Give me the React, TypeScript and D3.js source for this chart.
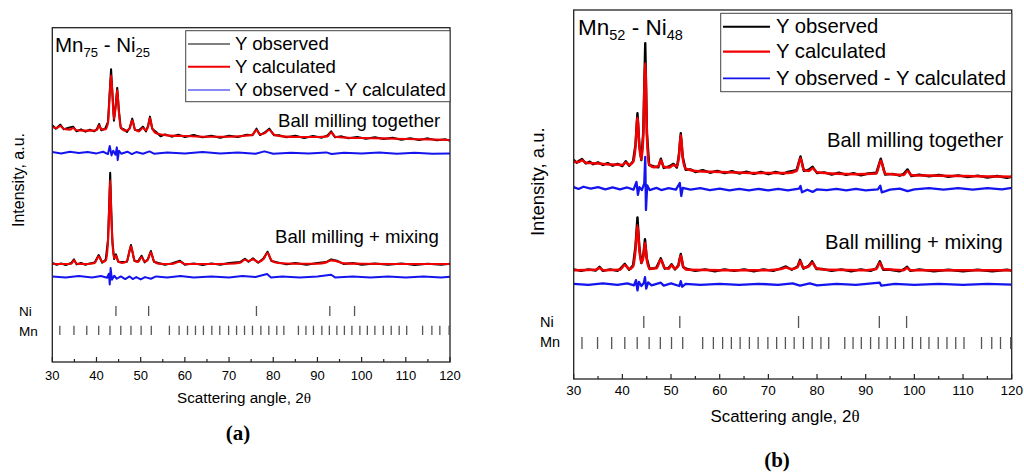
import React from 'react';
import * as d3 from 'd3';

type Pt = [number, number];

// x axis: scattering angle 2θ
const X_TICKS = [30, 40, 50, 60, 70, 80, 90, 100, 110, 120];
const X_MINOR = [35, 45, 55, 65, 75, 85, 95, 105, 115];

// reference reflections
const NI_LINES = [44.4, 51.8, 76.2, 92.8, 98.4];
const MN_LINES = [
  31.7, 34.9, 37.8, 40.5, 43.05, 45.5, 47.8, 50.1, 52.4, 56.5, 58.7, 60.6, 62.4, 64.2, 66.1,
  67.9, 69.9, 71.7, 73.5, 75.3, 77.2, 79.0, 80.8, 82.4, 85.7, 87.4, 89.1, 91.0, 92.7, 94.4,
  96.1, 97.8, 99.6, 101.3, 103.0, 104.9, 106.7, 108.5, 110.2, 113.8, 115.9, 117.7, 119.8,
];

const LEGEND = ['Y observed', 'Y calculated', 'Y observed - Y calculated'];
const SAMPLES = ['Ball milling together', 'Ball milling + mixing'];

// (a) Mn75 - Ni25, intensity a.u.
const A_TOP_OBS: Pt[] = [
  [30, 70.8], [30.8, 69.8], [31.8, 71.0], [32.6, 69.6], [33.5, 70.0], [34.7, 70.4], [35.5, 69.0],
  [36.5, 69.6], [37.5, 68.9], [38.5, 69.5], [39.5, 69.0], [40.1, 69.7], [40.6, 71.2], [41.1, 69.3],
  [42, 69.9], [42.6, 71.8], [43.0, 81], [43.3, 87.6], [43.6, 80.5], [43.95, 72.2], [44.35, 77],
  [44.7, 82.0], [45.05, 75.5], [45.5, 70.0], [46.2, 69.6], [46.9, 68.8], [47.5, 70.0], [48.1, 72.8],
  [48.7, 69.4], [49.6, 69.3], [50.5, 70.4], [51.2, 69.0], [51.7, 70.8], [52.1, 73.4], [52.6, 69.8],
  [53.5, 68.8], [54.5, 67.5], [55.5, 68.1], [57, 67.4], [58.5, 68.0], [60, 67.3], [62, 67.9],
  [64, 67.2], [66, 67.7], [68, 67.1], [70, 67.7], [72, 67.3], [74, 68.0], [75.3, 67.8], [76.2, 69.8],
  [77.0, 67.9], [78, 68.6], [79.1, 69.8], [80.2, 67.8], [81.5, 67.8], [83, 67.2], [85, 67.7],
  [87, 67.0], [89, 67.6], [91, 67.1], [92.3, 67.8], [93.1, 69.0], [94, 67.2], [95.5, 67.5], [97, 66.9],
  [99, 67.3], [101, 66.8], [103, 67.2], [105, 66.7], [107, 67.1], [109, 66.5], [111, 66.9], [113, 66.4],
  [115, 66.9], [117, 66.3], [119, 66.6], [120, 66.2],
];
const A_TOP_CALC: Pt[] = [
  [30, 70.3], [31, 70.0], [31.8, 70.6], [32.6, 69.8], [34, 69.5], [34.7, 70.0], [35.5, 69.3], [37, 69.2],
  [39, 69.2], [40.1, 69.4], [40.6, 70.8], [41.1, 69.6], [42, 69.6], [42.6, 71.5], [43.0, 80], [43.3, 85.8],
  [43.6, 80], [43.95, 72.6], [44.35, 76.5], [44.7, 81.4], [45.05, 75], [45.5, 70.2], [46.5, 69.2],
  [47.5, 69.8], [48.1, 72.3], [48.7, 69.6], [49.6, 69.0], [50.5, 70.0], [51.2, 69.3], [51.7, 70.5],
  [52.1, 73.0], [52.6, 70.0], [53.5, 68.4], [56, 67.8], [60, 67.6], [65, 67.4], [70, 67.4], [73, 67.6],
  [75.3, 68.0], [76.2, 69.4], [77.0, 68.1], [78, 68.4], [79.1, 69.4], [80.2, 68.0], [82, 67.5],
  [86, 67.3], [90, 67.3], [92.3, 67.5], [93.1, 68.6], [94, 67.4], [97, 67.1], [100, 67.0], [105, 66.9],
  [110, 66.7], [115, 66.6], [120, 66.4],
];
const A_TOP_DIFF: Pt[] = [
  [30, 62.8], [32, 62.4], [34, 62.9], [36, 62.5], [38, 62.8], [40, 62.4], [41.5, 62.9], [42.6, 62.2],
  [43.0, 64.6], [43.4, 61.8], [43.8, 63.2], [44.3, 62.0], [44.6, 64.2], [44.8, 60.4], [45.1, 63.2],
  [45.6, 62.3], [47, 62.9], [48, 62.2], [49, 62.8], [50.5, 62.3], [52, 63.0], [53, 62.3], [56, 62.7],
  [60, 62.4], [64, 62.8], [68, 62.4], [72, 62.7], [76, 62.3], [78, 63.0], [80, 62.3], [84, 62.6],
  [88, 62.4], [92, 62.7], [93.2, 62.2], [96, 62.6], [100, 62.4], [104, 62.7], [108, 62.3], [112, 62.6],
  [116, 62.3], [120, 62.4],
];
const A_BOT_OBS: Pt[] = [
  [30, 29.6], [31, 29.1], [32, 29.5], [33, 29.0], [34.3, 29.6], [34.9, 30.7], [35.5, 29.2], [36.5, 29.6],
  [37.5, 29.1], [38.5, 29.5], [39.6, 29.8], [40.5, 32.0], [41.3, 29.7], [42.1, 30.7], [42.6, 36.5],
  [42.85, 46], [43.1, 56.6], [43.35, 45], [43.6, 36.2], [44.0, 30.8], [44.4, 32.2], [44.9, 30.0],
  [45.8, 29.9], [46.9, 30.0], [47.8, 35.0], [48.6, 30.2], [49.4, 30.1], [50.2, 31.8], [50.9, 29.8],
  [51.6, 30.7], [52.3, 33.2], [53.0, 30.0], [54, 29.6], [55.5, 29.1], [57, 29.5], [58.9, 30.3],
  [60, 29.1], [62, 29.5], [64, 29.0], [66, 29.5], [68, 29.1], [70, 29.6], [72.5, 29.9], [73.6, 30.9],
  [74.4, 30.0], [75.4, 31.0], [76.6, 29.7], [77.8, 31.0], [78.7, 33.0], [79.6, 30.2], [81, 29.8],
  [83, 29.2], [85, 29.6], [87.5, 29.1], [90, 29.6], [92, 29.9], [93.1, 30.7], [94.4, 30.3], [96, 29.3],
  [98, 29.6], [100, 29.1], [103, 29.5], [106, 29.1], [109, 29.5], [112, 29.0], [115, 29.4], [118, 29.1],
  [120, 29.4],
];
const A_BOT_CALC: Pt[] = [
  [30, 29.4], [33, 29.3], [34.3, 29.4], [34.9, 30.4], [35.5, 29.4], [38, 29.3], [39.6, 29.6], [40.5, 31.6],
  [41.3, 29.9], [42.1, 30.4], [42.6, 36], [42.85, 45], [43.1, 54.4], [43.35, 44], [43.6, 36], [44.0, 31.0],
  [44.4, 31.8], [44.9, 30.2], [45.8, 29.6], [46.9, 30.2], [47.8, 34.6], [48.6, 30.4], [49.4, 29.9],
  [50.2, 31.4], [50.9, 30.0], [51.6, 30.5], [52.3, 32.8], [53.0, 30.2], [54, 29.4], [57, 29.3],
  [58.9, 30.0], [60, 29.3], [65, 29.3], [70, 29.4], [72.5, 29.7], [73.6, 30.6], [74.4, 30.2], [75.4, 30.7],
  [76.6, 29.9], [77.8, 30.8], [78.7, 32.6], [79.6, 30.4], [81, 29.6], [85, 29.4], [90, 29.4], [92, 29.8],
  [93.1, 30.4], [94.4, 30.1], [96, 29.5], [100, 29.4], [110, 29.3], [120, 29.3],
];
const A_BOT_DIFF: Pt[] = [
  [30, 25.6], [33, 25.3], [36, 25.7], [39, 25.3], [41, 25.7], [42.4, 25.2], [42.8, 26.4], [43.0, 23.2],
  [43.2, 28.1], [43.5, 24.6], [44, 25.8], [44.6, 24.9], [45.5, 25.6], [46.5, 24.8], [47.5, 25.6],
  [48.2, 24.8], [49, 25.4], [50, 24.7], [51, 25.4], [52.3, 24.9], [53.5, 25.6], [56, 25.3], [59, 25.7],
  [62, 25.3], [66, 25.6], [70, 25.3], [73, 25.7], [76, 25.4], [78.6, 26.3], [79.5, 25.3], [82, 25.6],
  [86, 25.3], [90, 25.6], [93.1, 26.1], [94, 25.3], [98, 25.6], [102, 25.3], [106, 25.6], [110, 25.3],
  [114, 25.6], [118, 25.3], [120, 25.5],
];

// (b) Mn52 - Ni48, intensity a.u.
const B_TOP_OBS: Pt[] = [
  [30, 59.4], [30.6, 58.6], [31.2, 59.2], [31.7, 59.6], [32.5, 58.4], [33.3, 58.9], [34, 58.2], [35, 58.7],
  [36, 58.0], [37, 58.5], [38, 57.8], [39, 58.3], [40, 57.7], [40.7, 59.0], [41.4, 57.8], [42.2, 59.0],
  [42.7, 63.5], [43.1, 72.0], [43.5, 63.2], [43.9, 59.3], [44.3, 67], [44.7, 91.0], [45.05, 66.5],
  [45.5, 58.0], [46.5, 57.6], [47.4, 57.4], [47.9, 59.7], [48.5, 57.2], [49.6, 57.6], [50.5, 58.3],
  [51.2, 57.3], [51.6, 60.5], [52.0, 66.6], [52.4, 60.2], [53, 56.7], [54, 56.8], [55, 56.1], [56.5, 56.6],
  [58, 55.9], [59.5, 56.4], [61, 55.8], [62.5, 56.3], [64, 55.7], [65.5, 56.2], [67, 55.6], [68.5, 56.1],
  [70, 55.5], [71.5, 56.1], [73, 55.6], [74, 56.1], [75.8, 56.6], [76.6, 60.3], [77.3, 56.4], [78.3, 56.7],
  [79.1, 57.5], [80, 55.8], [81.5, 56.0], [83, 55.4], [84.5, 55.9], [86, 55.3], [87.5, 55.8], [89, 55.2],
  [90.5, 55.7], [92.2, 55.9], [93.1, 59.7], [94, 55.4], [95.5, 55.6], [97, 55.1], [97.8, 55.6],
  [98.6, 56.8], [99.4, 55.0], [101, 55.4], [103, 54.9], [105, 55.3], [107, 54.8], [109, 55.2], [111, 54.7],
  [113, 55.1], [115, 54.6], [117, 55.0], [119, 54.5], [120, 54.8],
];
const B_TOP_CALC: Pt[] = [
  [30, 58.9], [31, 58.8], [31.7, 59.3], [32.5, 58.6], [34, 58.5], [36, 58.3], [38, 58.1], [40, 58.0],
  [40.7, 58.7], [41.4, 58.0], [42.2, 58.8], [42.7, 63], [43.1, 70.7], [43.5, 63], [43.9, 59.5], [44.3, 66],
  [44.7, 85.6], [45.05, 66], [45.5, 58.2], [46.5, 57.4], [47.4, 57.7], [47.9, 59.3], [48.5, 57.5],
  [49.6, 57.3], [50.5, 58.0], [51.2, 57.6], [51.6, 60], [52.0, 66.1], [52.4, 60], [53, 57.0], [55, 56.4],
  [60, 56.1], [65, 55.9], [70, 55.8], [74, 55.8], [75.8, 56.4], [76.6, 59.8], [77.3, 56.6], [78.3, 56.4],
  [79.1, 57.1], [80, 56.0], [84, 55.6], [88, 55.5], [92.2, 55.7], [93.1, 59.2], [94, 55.6], [97.8, 55.3],
  [98.6, 56.4], [99.4, 55.2], [105, 55.1], [110, 55.0], [115, 54.9], [120, 54.8],
];
const B_TOP_DIFF: Pt[] = [
  [30, 52.0], [31, 51.5], [32, 52.1], [33.5, 51.6], [35, 52.0], [36.5, 51.4], [38, 51.9], [39.5, 51.4],
  [41, 51.9], [42.3, 51.3], [42.9, 53.4], [43.2, 49.9], [43.5, 52.0], [44.0, 51.2], [44.5, 53.0],
  [44.7, 60.2], [44.85, 45.8], [45.1, 52.5], [45.6, 51.2], [47, 51.8], [48, 51.2], [49.5, 51.7], [51, 51.3],
  [51.8, 53.1], [52.1, 49.6], [52.4, 51.8], [54, 51.3], [56, 51.7], [58, 51.2], [60, 51.6], [62, 51.1],
  [64, 51.5], [66, 51.1], [68, 51.5], [70, 51.1], [72, 51.5], [74, 51.1], [76.3, 51.6], [76.6, 52.3],
  [76.9, 50.6], [78, 51.3], [79.1, 50.7], [80, 51.4], [82, 51.2], [84, 51.5], [86, 51.1], [88, 51.5],
  [90, 51.1], [92.5, 51.4], [93.0, 52.4], [93.3, 50.6], [95, 51.3], [97, 51.6], [98.6, 50.9], [100, 51.4],
  [103, 51.7], [106, 51.3], [109, 51.7], [112, 51.3], [115, 51.7], [118, 51.4], [120, 51.8],
];
const B_BOT_OBS: Pt[] = [
  [30, 29.7], [31.5, 29.3], [33, 29.7], [34.5, 29.4], [35.3, 30.4], [36, 29.3], [37.5, 29.7], [39, 29.3],
  [39.5, 29.8], [40.5, 31.2], [41.4, 29.6], [42.2, 30.8], [42.7, 36], [43.1, 43.8], [43.5, 35.5],
  [43.9, 31.4], [44.3, 33.5], [44.65, 37.9], [45.0, 32.8], [45.6, 29.8], [47.0, 30.2], [47.9, 32.7],
  [48.7, 29.9], [49.5, 30.1], [50.1, 31.1], [50.8, 29.7], [51.5, 30.8], [52.0, 33.9], [52.5, 30.3],
  [53.3, 29.8], [55, 29.3], [57, 29.7], [59, 29.2], [61, 29.7], [63, 29.3], [65, 29.7], [67, 29.2],
  [69, 29.7], [71, 29.3], [72.6, 30.0], [73.6, 30.5], [74.8, 29.6], [76.0, 30.5], [76.5, 32.3],
  [77.2, 29.9], [78.3, 30.7], [79.0, 31.9], [79.9, 29.8], [81, 29.8], [83, 29.3], [85, 29.7], [87, 29.2],
  [89, 29.7], [91, 29.3], [92.2, 30.0], [92.9, 31.9], [93.6, 29.6], [95, 29.6], [97, 29.2], [97.8, 29.7],
  [98.5, 30.4], [99.2, 29.3], [101, 29.7], [104, 29.2], [107, 29.6], [110, 29.2], [113, 29.6], [116, 29.2],
  [119, 29.6], [120, 29.4],
];
const B_BOT_CALC: Pt[] = [
  [30, 29.5], [34.5, 29.6], [35.3, 30.1], [36, 29.5], [39.5, 29.6], [40.5, 30.9], [41.4, 29.8], [42.2, 30.5],
  [42.7, 35], [43.1, 41.7], [43.5, 35], [43.9, 31.5], [44.3, 33], [44.65, 36.9], [45.0, 32.5], [45.6, 29.9],
  [47.0, 30.0], [47.9, 32.3], [48.7, 30.1], [49.5, 29.9], [50.1, 30.8], [50.8, 29.9], [51.5, 30.6],
  [52.0, 33.5], [52.5, 30.5], [53.3, 29.6], [60, 29.5], [70, 29.5], [72.6, 29.8], [73.6, 30.2], [74.8, 29.8],
  [76.0, 30.3], [76.5, 31.9], [77.2, 30.1], [78.3, 30.5], [79.0, 31.5], [79.9, 30.0], [82, 29.6], [90, 29.5],
  [92.2, 29.8], [92.9, 31.5], [93.6, 29.8], [97.8, 29.5], [98.5, 30.1], [99.2, 29.5], [110, 29.5], [120, 29.5],
];
const B_BOT_DIFF: Pt[] = [
  [30, 25.8], [33, 25.5], [36, 25.9], [39, 25.5], [41, 25.9], [42.4, 25.4], [42.8, 26.8], [43.1, 24.0],
  [43.4, 26.3], [43.9, 25.2], [44.4, 26.0], [44.65, 27.6], [44.9, 24.5], [45.3, 26.2], [46, 25.4],
  [47.9, 26.1], [48.5, 25.3], [50, 25.9], [51.7, 25.2], [52.0, 26.5], [52.3, 25.0], [53, 25.8], [56, 25.5],
  [60, 25.8], [64, 25.5], [68, 25.8], [72, 25.5], [75, 25.9], [76.5, 25.3], [78.5, 25.9], [80, 25.4],
  [84, 25.8], [88, 25.5], [92.9, 26.1], [93.2, 25.3], [96, 25.8], [100, 25.5], [105, 25.8], [110, 25.5],
  [115, 25.8], [120, 25.6],
];

const SANS = '"Liberation Sans", Arial, sans-serif';
const RED = '#f00000';
const BLUE = '#1414ee';

const Panel = ({ L, sub, patterns }: any) => {
  const x = d3.scaleLinear().domain([30, 120]).range([L.x0, L.x1]);
  const y = d3.scaleLinear().domain([0, 100]).range([L.y1, L.y0]);
  const smooth = d3.line<Pt>().x((d) => x(d[0])).y((d) => y(d[1])).curve(d3.curveMonotoneX);
  const raw = d3.line<Pt>().x((d) => x(d[0])).y((d) => y(d[1]));
  const legColors = ['#000', RED, BLUE];

  return (
    <g fontFamily={SANS}>
      {patterns.map((p: any, i: number) => (
        <g key={i} fill="none" strokeLinejoin="round">
          <path d={raw(p.diff) || ''} stroke={BLUE} strokeWidth={L.diffW} />
          <path d={raw(p.obs) || ''} stroke="#000" strokeWidth={L.obsW} />
          <path d={smooth(p.calc) || ''} stroke={RED} strokeWidth={L.calcW} />
        </g>
      ))}

      {/* frame */}
      <rect x={L.x0} y={L.y0} width={L.x1 - L.x0} height={L.y1 - L.y0} fill="none" stroke="#222" strokeWidth={1.3} />

      {/* title */}
      <text x={L.title.x} y={L.title.y} fontSize={L.title.size}>
        <tspan>Mn</tspan>
        <tspan fontSize={L.title.sub} dy={5}>{sub[0]}</tspan>
        <tspan dy={-5}> - Ni</tspan>
        <tspan fontSize={L.title.sub} dy={5}>{sub[1]}</tspan>
      </text>

      {/* legend */}
      <rect x={L.leg.x0} y={L.leg.y0} width={L.x1 - L.leg.x0} height={L.leg.y1 - L.leg.y0} fill="#fff" stroke="#444" strokeWidth={1} />
      {LEGEND.map((t, i) => (
        <g key={t}>
          <line x1={L.leg.lx0} x2={L.leg.lx1} y1={L.leg.rows[i]} y2={L.leg.rows[i]} stroke={legColors[i]} strokeWidth={L.legW[i]} />
          <text x={L.leg.tx} y={L.leg.rows[i] + L.leg.dy} fontSize={L.leg.size}>{t}</text>
        </g>
      ))}

      {SAMPLES.map((t, i) => (
        <text key={t} x={L.samples[i][0]} y={L.samples[i][1]} fontSize={L.sampleSize}>{t}</text>
      ))}

      {/* reference reflections */}
      <text x={L.ref.lx} y={L.ref.niY} fontSize={L.ref.size}>Ni</text>
      <text x={L.ref.lx} y={L.ref.mnY} fontSize={L.ref.size}>Mn</text>
      {NI_LINES.map((v) => (
        <line key={'ni' + v} x1={x(v)} x2={x(v)} y1={L.ref.ni[0]} y2={L.ref.ni[1]} stroke="#555" strokeWidth={1.3} />
      ))}
      {MN_LINES.map((v) => (
        <line key={'mn' + v} x1={x(v)} x2={x(v)} y1={L.ref.mn[0]} y2={L.ref.mn[1]} stroke="#555" strokeWidth={1.3} />
      ))}

      {/* x axis */}
      {X_TICKS.map((v) => (
        <g key={v}>
          <line x1={x(v)} x2={x(v)} y1={L.y1} y2={L.y1 - 5} stroke="#222" strokeWidth={1.2} />
          <text x={x(v)} y={L.tickY} fontSize={L.tickSize} textAnchor="middle">{v}</text>
        </g>
      ))}
      {X_MINOR.map((v) => (
        <line key={v} x1={x(v)} x2={x(v)} y1={L.y1} y2={L.y1 - 3} stroke="#222" strokeWidth={1.2} />
      ))}
      <text x={L.xTitle[0]} y={L.xTitle[1]} fontSize={L.xTitle[2]} textAnchor="middle">
        Scattering angle, 2<tspan fontFamily='"Liberation Serif", serif'>θ</tspan>
      </text>
      <text transform={`translate(${L.yTitle[0]},${L.yTitle[1]}) rotate(-90)`} fontSize={L.yTitle[2]} textAnchor="middle">
        Intensity, a.u.
      </text>

      <text x={L.cap[1]} y={L.cap[2]} fontSize={21} fontWeight="bold" fontFamily='"Liberation Serif", serif' textAnchor="middle">
        {L.cap[0]}
      </text>
    </g>
  );
};

const LAYOUT_A = {
  x0: 52.3, x1: 450, y0: 27.7, y1: 362,
  obsW: 2, calcW: 2.1, diffW: 2,
  title: { x: 55, y: 52, size: 20.5, sub: 13 },
  leg: { x0: 185.7, y0: 30.7, y1: 101.7, lx0: 188, lx1: 230, tx: 235, rows: [44, 66.7, 90], dy: 6.2, size: 18.6 },
  legW: [1, 2, 1.2],
  samples: [[278, 127], [275, 243.3]], sampleSize: 18.6,
  ref: { lx: 19, size: 13.5, ni: [306, 316], mn: [325.7, 335], niY: 316, mnY: 336 },
  tickSize: 13, tickY: 380,
  xTitle: [244, 402.7, 15.2],
  yTitle: [24, 180, 16],
  cap: ['(a)', 238, 440],
};

const LAYOUT_B = {
  x0: 573.7, x1: 1011.7, y0: 10, y1: 379,
  obsW: 2.4, calcW: 2.5, diffW: 2.3,
  title: { x: 578, y: 35, size: 22.5, sub: 14.5 },
  leg: { x0: 720.7, y0: 13.3, y1: 91.7, lx0: 723, lx1: 770, tx: 776, rows: [26.7, 51.7, 78.3], dy: 6.7, size: 20.3 },
  legW: [2, 2.2, 1.8],
  samples: [[827, 146.7], [825, 249.3]], sampleSize: 20.2,
  ref: { lx: 540, size: 14.5, ni: [316, 328], mn: [337, 349], niY: 327, mnY: 347 },
  tickSize: 13.5, tickY: 395,
  xTitle: [785, 421.7, 16.9],
  yTitle: [544, 181.7, 18.5],
  cap: ['(b)', 777, 467],
};

export default function App() {
  return (
    <svg width={1024} height={473} style={{ position: 'absolute', left: 0, top: 0, background: '#fff' }}>
      <Panel
        L={LAYOUT_A}
        sub={['75', '25']}
        patterns={[
          { obs: A_TOP_OBS, calc: A_TOP_CALC, diff: A_TOP_DIFF },
          { obs: A_BOT_OBS, calc: A_BOT_CALC, diff: A_BOT_DIFF },
        ]}
      />
      <Panel
        L={LAYOUT_B}
        sub={['52', '48']}
        patterns={[
          { obs: B_TOP_OBS, calc: B_TOP_CALC, diff: B_TOP_DIFF },
          { obs: B_BOT_OBS, calc: B_BOT_CALC, diff: B_BOT_DIFF },
        ]}
      />
    </svg>
  );
}
